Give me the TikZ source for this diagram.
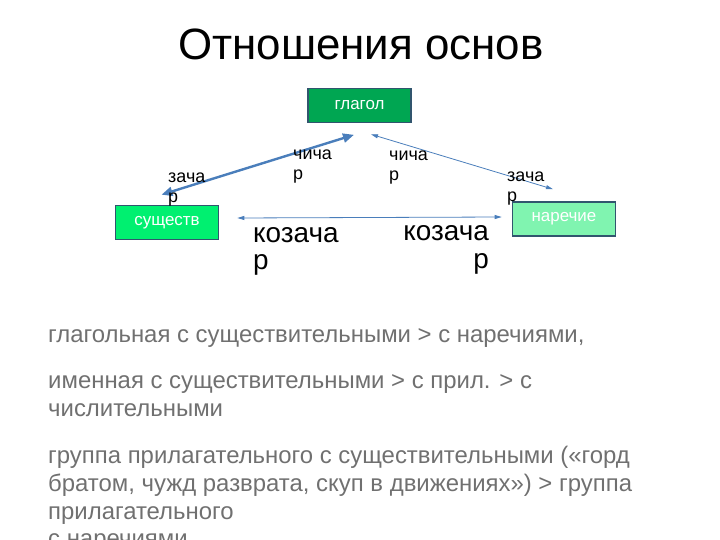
\documentclass[tikz,border=0pt]{standalone}
\usepackage{fontspec}
\setmainfont{Liberation Sans}
\usetikzlibrary{arrows.meta,calc}

\definecolor{titlegreen}{RGB}{0,166,82}
\definecolor{nounGreen}{RGB}{0,240,112}
\definecolor{advGreen}{RGB}{128,244,176}
\definecolor{frameBlue}{RGB}{49,85,110}
\definecolor{arrowBlue}{RGB}{74,126,187}
\definecolor{bodyGray}{RGB}{112,112,112}

% lines of a label, first baseline on the node's base
\newcommand{\leftlines}[1]{\begin{tabular}[t]{@{}l@{}}#1\end{tabular}}
\newcommand{\rightlines}[1]{\begin{tabular}[t]{@{}r@{}}#1\end{tabular}}

\begin{document}
\begin{tikzpicture}[x=1bp, y=-1bp, >={Triangle[length=7bp,width=4bp]}]
    \useasboundingbox (0,0) rectangle (720,540);
    \clip (0,0) rectangle (720,540);

    \tikzstyle{posbox} = [rectangle, draw = frameBlue, line width = 1.6bp, text = white,
        minimum width = 103bp, minimum height = 34bp, inner sep = 0pt,
        font = \fontsize{17}{20}\selectfont]
    \tikzstyle{smalllabel} = [inner sep = 0pt, anchor = base west,
        font = \fontsize{18}{20}\selectfont]
    \tikzstyle{biglabel} = [inner sep = 0pt, font = \fontsize{28}{27.5}\selectfont]
    \tikzstyle{bodytext} = [inner sep = 0pt, anchor = base west, text = bodyGray,
        font = \fontsize{24}{28}\selectfont]

    \node[font = \fontsize{44}{48}\selectfont, anchor = base] (title) at (361, 60) {Отношения основ};

    \node[posbox, fill = titlegreen] (glagol) at (359.5, 105.5) {глагол};
    \node[posbox, fill = nounGreen] (sush) at (167, 222.5) {существ};
    \node[posbox, fill = advGreen] (narech) at (564, 219) {наречие};

    \coordinate (sushTop) at ($(sush.north) + (-5.5, -10)$);
    \coordinate (glagolLeft) at ($(glagol.south) + (-5.5, 11.5)$);
    \coordinate (glagolRight) at ($(glagol.south) + (11.5, 11)$);
    \coordinate (narechTop) at ($(narech.north) + (-11, -12)$);
    \coordinate (sushRight) at ($(sush.east) + (18, -4.5)$);
    \coordinate (narechLeft) at ($(narech.west) + (-10, -2)$);

    \draw[<->, arrowBlue, line width = 2.4bp, >={Triangle[length=11bp,width=9bp]}]
        (sushTop) -- (glagolLeft);
    \draw[<->, arrowBlue, line width = 0.8bp] (glagolRight) -- (narechTop);
    \draw[<->, arrowBlue, line width = 0.8bp] (sushRight) -- (narechLeft);

    \node[smalllabel] (zachaL) at (168, 183) {\leftlines{зача\\р}};
    \node[smalllabel] (chicharL) at (293, 160) {\leftlines{чича\\р}};
    \node[smalllabel] (chicharR) at (389, 161) {\leftlines{чича\\р}};
    \node[smalllabel] (zachaR) at (507, 182) {\leftlines{зача\\р}};

    \node[biglabel, anchor = base west] (kozacharL) at (253, 242.5) {\leftlines{козача\\р}};
    \node[biglabel, anchor = base east] (kozacharR) at (489, 241) {\rightlines{козача\\р}};

    \node[bodytext] (rule1) at (48, 342.7) {глагольная с существительными > с наречиями,};
    \node[bodytext] (rule2) at (48, 388.3) {\leftlines{именная с существительными > с прил. > с\\числительными}};
    \node[bodytext] (rule3) at (48, 463.3) {\leftlines{группа прилагательного с существительными («горд\\братом, чужд разврата, скуп в движениях») > группа\\прилагательного\\с наречиями}};
\end{tikzpicture}
\end{document}
